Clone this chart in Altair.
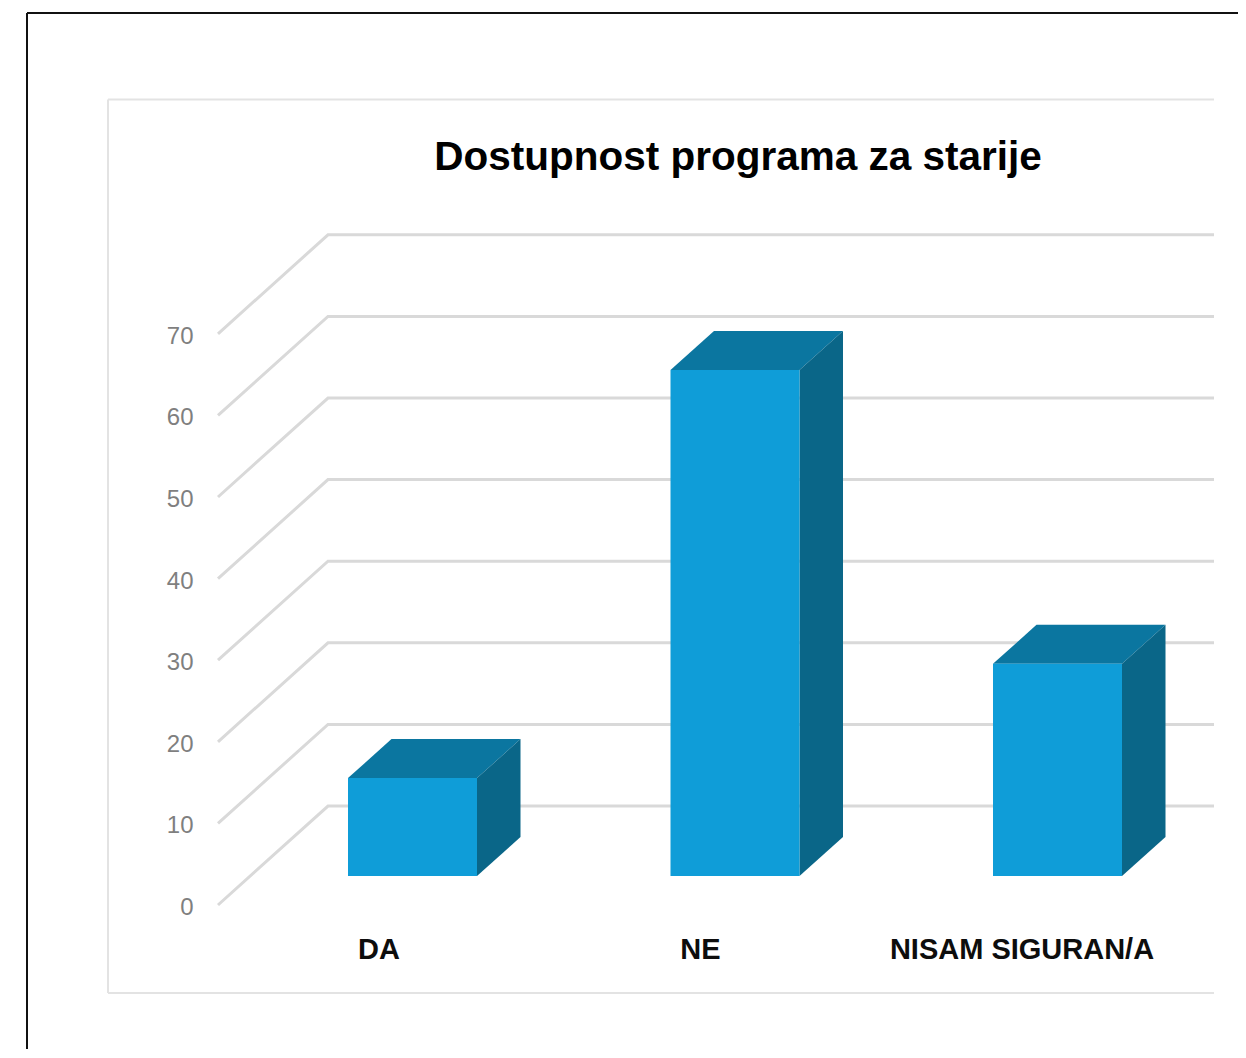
import altair as alt
import pandas as pd

categories = ["DA", "NE", "NISAM SIGURAN/A"]
values = [12, 62, 26]
tick_values = [0, 10, 20, 30, 40, 50, 60, 70]
title_text = "Dostupnost programa za starije"

# layout (chart pixels on x, value units on y)
W, H = 1230, 1041
X_LEFT, X_BACK, X_RIGHT = 210, 320, 1206
BAR_LEFT = [340, 662.5, 985]
BAR_W = 129
DX, DY = 43.5, 4.78
BACK_DY = 12.13
BASE = 3.55
LABEL_X = [371, 692.5, 1014]
LABEL_V = -5.5
PX_PER_UNIT = 8.16
Y_DOMAIN = [(897 - H) / PX_PER_UNIT, 897 / PX_PER_UNIT]

y_axis = alt.Axis(
    values=tick_values, orient="left", offset=-185, domain=False, ticks=False,
    grid=False, title=None, labelFont="Liberation Sans", labelFontSize=24,
    labelColor="#7F7F7F", labelPadding=0, labelAlign="right", labelOffset=2.5)

xs = alt.Scale(domain=[0, W], range=[0, W], nice=False, zero=False)
ys = alt.Scale(domain=Y_DOMAIN, nice=False, zero=False)
X = lambda f="x": alt.X(f"{f}:Q", scale=xs, axis=None)
Y = lambda f="y": alt.Y(f"{f}:Q", scale=ys, stack=None, axis=y_axis)

front, top, side, grid = [], [], [], []
for c, v, l in zip(categories, values, BAR_LEFT):
    r = l + BAR_W
    t = BASE + v
    front.append({"c": c, "x": l, "x2": r, "y": t, "y2": BASE})
    top += [{"c": c, "x": l, "y": t, "y2": t},
            {"c": c, "x": l + DX, "y": t + DY, "y2": t},
            {"c": c, "x": r, "y": t + DY, "y2": t},
            {"c": c, "x": r + DX, "y": t + DY, "y2": t + DY}]
    side += [{"c": c, "x": r, "y": t, "y2": BASE},
             {"c": c, "x": r + DX, "y": t + DY, "y2": BASE + DY}]
for tv in tick_values:
    grid += [{"t": tv, "x": X_LEFT, "y": tv},
             {"t": tv, "x": X_BACK, "y": tv + BACK_DY},
             {"t": tv, "x": X_RIGHT, "y": tv + BACK_DY}]

one = pd.DataFrame({"o": [0]})
outer = alt.Chart(one).mark_rule(color="#111111", strokeWidth=2).encode(
    x=alt.value(19), y=alt.value(5), y2=alt.value(H))
outer_top = alt.Chart(one).mark_rule(color="#111111", strokeWidth=2).encode(
    x=alt.value(19), x2=alt.value(W), y=alt.value(5))
panel = alt.Chart(one).mark_rule(color="#E3E3E3", strokeWidth=2).encode(
    x=alt.value(100), y=alt.value(91.5), y2=alt.value(985))
panel_top = alt.Chart(one).mark_rule(color="#E3E3E3", strokeWidth=2).encode(
    x=alt.value(100), x2=alt.value(X_RIGHT), y=alt.value(91.5))
panel_bot = alt.Chart(one).mark_rule(color="#E3E3E3", strokeWidth=2).encode(
    x=alt.value(100), x2=alt.value(X_RIGHT), y=alt.value(985))

grid_l = alt.Chart(pd.DataFrame(grid)).mark_line(color="#D9D9D9", strokeWidth=3).encode(
    x=X(), y=Y(), detail="t:N", order=alt.Order("x:Q"))
front_l = alt.Chart(pd.DataFrame(front)).mark_rect(color="#0F9DD8").encode(
    x=X(), x2="x2:Q", y=Y(), y2="y2:Q")
side_l = alt.Chart(pd.DataFrame(side)).mark_area(color="#0A6688").encode(
    x=X(), y=Y(), y2="y2:Q", detail="c:N")
top_l = alt.Chart(pd.DataFrame(top)).mark_area(color="#0B76A0").encode(
    x=X(), y=Y(), y2="y2:Q", detail="c:N")
labels = alt.Chart(pd.DataFrame({"c": categories, "x": LABEL_X, "y": [LABEL_V] * 3})).mark_text(
    font="Liberation Sans", fontWeight="bold", fontSize=29, color="#0D0D0D", align="center", baseline="middle"
).encode(x=X(), y=Y(), text="c:N")
title = alt.Chart(pd.DataFrame({"c": [title_text]})).mark_text(
    font="Liberation Sans", fontWeight="bold", fontSize=40.5, color="#000000", align="center", baseline="middle"
).encode(x=alt.value(730), y=alt.value(150), text="c:N")

chart = alt.layer(outer, outer_top, panel, panel_top, panel_bot, grid_l, top_l, side_l, front_l, labels, title).properties(
    width=W, height=H, padding=0, autosize=alt.AutoSizeParams(type="none"), background="white"
).configure_view(stroke=None)
chart.save("out.html", embed_options={"renderer": "svg", "actions": False})
